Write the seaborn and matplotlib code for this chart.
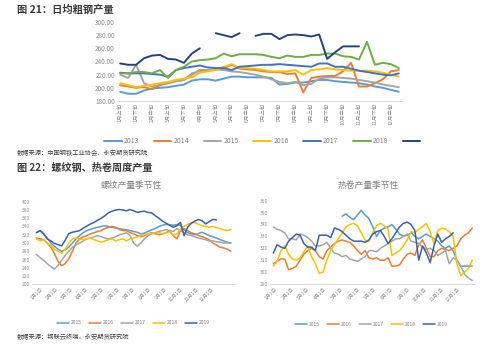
import numpy as np
import pandas as pd
import matplotlib
matplotlib.use('Agg')
import matplotlib.pyplot as plt
import seaborn as sns
from matplotlib.lines import Line2D

sns.set_style('white')
plt.rcParams['font.family'] = ['Noto Sans CJK SC', 'DejaVu Sans']
plt.rcParams['axes.unicode_minus'] = False
nan = np.nan

# ---------------- chart 21: daily crude steel output (dekads) ----------------
dekad_labels = ['1月上旬', '1月下旬', '2月中旬', '3月上旬', '3月下旬', '4月中旬',
                '5月上旬', '5月下旬', '6月中旬', '7月上旬', '7月下旬', '8月中旬',
                '9月上旬', '9月下旬', '10月中旬', '11月上旬', '11月下旬', '12月中旬']
steel_years = ['2013', '2014', '2015', '2016', '2017', '2018', '2019']
steel_legend = ['2013', '2014', '2015', '2016', '2017', '2018', '']
steel_2013 = [194, 191, 191, 196, 199, 200, 201, 203, 205, 211, 213, 213, 211, 214, 217, 217, 216, 216,
              216, 215, 205, 206, 208, 208, 210, 212, 212, 210, 209, 208, 207, 205, 202, 200, 197, 194]
steel_2014 = [204, 202, 200, 201, 198, 204, 207, 210, 212, 220, 227, 227, 228, 230, 235, 229, 228, 227,
              225, 224, 224, 221, 222, 193, 215, 217, 218, 218, 225, 238, 202, 202, 207, 213, 225, 227]
steel_2015 = [220, 215, 235, 207, 202, 205, 208, 210, 212, 222, 225, 227, 228, 227, 225, 224, 222, 220,
              217, 213, 209, 207, 209, 204, 206, 214, 216, 216, 215, 214, 212, 210, 208, 205, 203, 201]
steel_2016 = [207, 204, 201, 203, 205, 207, 209, 212, 214, 216, 223, 225, 227, 232, 236, 230, 230, 229,
              227, 225, 225, 225, 227, 220, 227, 228, 230, 228, 227, 226, 226, 226, 225, 223, 220, 217]
steel_2017 = [223, 222, 222, 222, 221, 220, 217, 227, 230, 232, 234, 231, 230, 230, 227, 232, 233, 234,
              235, 235, 236, 235, 234, 233, 232, 237, 237, 232, 232, 229, 226, 224, 222, 220, 219, 222]
steel_2018 = [222, 222, 224, 224, 222, 227, 215, 227, 232, 240, 242, 243, 245, 252, 248, 251, 251, 251,
              250, 247, 245, 249, 247, 247, 250, 250, 252, 252, 248, 247, 243, 270, 235, 238, 236, 230]
steel_2019 = [237, 235, 235, 245, 249, 250, 244, 243, 238, 252, 260, nan, 283, 280, 277, 283, nan, 279,
              282, 282, 274, 280, 281, 280, 278, 281, 244, 254, 263, 263, 263, nan, nan, nan, nan, nan]

# ---------------- chart 22 left: rebar weekly output ----------------
month_labels = ['1月1日', '2月1日', '3月1日', '4月1日', '5月1日', '6月1日',
                '7月1日', '8月1日', '9月1日', '10月1日', '11月1日', '12月1日']
week_years = ['2015', '2016', '2017', '2018', '2019']
rebar_2015 = [325, 330, 322, 312, 300, 292, 285, 280, 283, 290, 300, 310, 318, 325, 330, 333, 336, 338, 340,
              342, 340, 338, 336, 335, 333, 332, 330, 328, 326, 322, 324, 328, 332, 335, 340, 343, 345, 344,
              343, 345, 343, 332, 325, 322, 320, 323, 326, 322, 318, 315, 312, 308, 305, 302, 300]
rebar_2016 = [312, 310, 308, 300, 290, 275, 255, 245, 250, 262, 280, 300, 310, 315, 318, 322, 325, 328, 330,
              335, 338, 340, 338, 333, 330, 330, 325, 322, 318, 315, 318, 322, 325, 322, 320, 322, 325, 330,
              318, 310, 330, 335, 330, 325, 322, 318, 315, 312, 308, 300, 295, 290, 288, 285, 280]
rebar_2017 = [272, 265, 258, 250, 243, 237, 245, 258, 270, 280, 290, 295, 300, 305, 310, 312, 315, 318, 315,
              312, 310, 312, 315, 320, 322, 325, 318, 300, 292, 300, 310, 318, 322, 325, 328, 330, 332, 330,
              328, 335, 330, 325, 320, 318, 315, 312, 310, 308, 305, 305, 303, 302, 300, 300, 300]
rebar_2018 = [310, 305, 308, 300, 295, 285, 280, 275, 285, 300, 310, 312, 310, 308, 310, 312, 308, 305, 302,
              305, 308, 310, 305, 308, 310, 305, 310, 312, 315, 318, 320, 322, 323, 325, 325, 322, 325, 328,
              320, 322, 335, 340, 345, 348, 350, 345, 342, 340, 338, 340, 337, 335, 332, 330, 333]
rebar_2019 = [325, 330, 322, 310, 305, 299, 296, 293, 307, 323, 326, 328, 330, 336, 341, 346, 350, 355, 360,
              366, 373, 377, 380, 381, 380, 378, 381, 378, 374, 376, 377, 374, 373, 366, 360, 353, 348, 343,
              338, 342, 350, 318, 338, 348, 353, 357, 354, 346, 352, 357, 356, nan, nan, nan, nan]

# ---------------- chart 22 right: hot-rolled coil weekly output ----------------
hrc_2015 = [nan] * 18 + [347, 349, 346, 344, 348, 352, 348, 345, 338, 330, 335, 337, 338, 340, 336, 332, 330,
                         331, 333, 330, 328, 330, 332, 330, 328, 326, 322, 320, 322, 318, 310, 305, 305, 305, 305]
hrc_2016 = [307, 309, 311, 311, 302, 303, 305, 310, 315, 318, 320, 318, 313, 311, 318, 321, 324, 326, 327,
            326, 325, 322, 318, 315, 318, 312, 311, 312, 310, 310, 312, 305, 305, 306, 311, 315, 316, 314,
            323, 327, 320, 313, 313, 318, 320, 319, 318, 320, 322, 328, 331, 333, 337]
hrc_2017 = [338, 336, 335, 333, 328, 328, 327, 332, 331, 329, 326, 322, 322, 323, 325, 320, 316, 315, 313,
            314, 311, 310, 309, 311, 313, 318, 318, 317, 320, 322, 324, 326, 328, 328, 330, 332, 326, 325,
            324, 321, 319, 320, 318, 314, 316, 318, 307, 312, 310, 305, 298, 295, 293]
hrc_2018 = [305, 309, 318, 322, 315, 311, 310, 312, 317, 322, 313, 307, 299, 300, 310, 318, 323, 328, 333,
            338, 340, 341, 339, 333, 327, 326, 333, 339, 341, 339, 336, 314, 316, 318, 322, 327, 334, 333,
            336, 338, 341, 334, 324, 335, 337, 336, 334, 330, 307, 297, 300, 303, 310]
hrc_2019 = [316, 323, 321, 320, 326, 329, 332, 331, 324, 321, 321, 318, 331, 331, 331, 329, 337, 336, 334,
            331, 328, 326, 326, 326, 325, 327, 332, 334, 335, 330, 324, 328, 333, 338, 341, 342, 340, 335,
            310, 322, 316, 308, 322, 332, 325, 328, 330, 333, nan, nan, nan, nan, nan]

# ---------------- helpers ----------------
def to_long(names, series, xs):
    rows = []
    for name, vals in zip(names, series):
        seg = 0
        for x, v in zip(xs, vals):
            if v is None or np.isnan(v):
                seg += 1
                continue
            rows.append((name, f'{name}-{seg}', x, float(v)))
    return pd.DataFrame(rows, columns=['year', 'seg', 'x', 'v'])


def style(ax):
    for sp in ['top', 'right', 'left']:
        ax.spines[sp].set_visible(False)
    ax.spines['bottom'].set_color('#D9D9D9')
    ax.spines['bottom'].set_linewidth(0.7)
    ax.tick_params(length=0, colors='#8C8C8C', pad=1.5)
    ax.set_xlabel('')
    ax.set_ylabel('')
    ax.grid(False)
    ax.set_facecolor('none')


pal_steel = {'2013': '#5B9BD5', '2014': '#ED7D31', '2015': '#A5A5A5', '2016': '#FFC000',
             '2017': '#4472C4', '2018': '#70AD47', '2019': '#264478'}
pal_week = {'2015': '#5B9BD5', '2016': '#ED7D31', '2017': '#A5A5A5', '2018': '#FFC000',
            '2019': '#3A62AC'}

W, H = 500, 349
fig = plt.figure(figsize=(5.0, 3.49), dpi=100)
fig.patch.set_facecolor('white')

# ---- top chart
ax1 = fig.add_axes([117 / W, 1 - 101 / H, 285 / W, 79 / H])
df1 = to_long(steel_years, [steel_2013, steel_2014, steel_2015, steel_2016, steel_2017, steel_2018, steel_2019],
              list(range(len(steel_2013))))
sns.lineplot(data=df1, x='x', y='v', hue='year', units='seg', estimator=None, palette=pal_steel,
             linewidth=1.4, legend=False, ax=ax1, sort=False)
ax1.set_ylim(180, 300)
ax1.set_yticks(range(180, 301, 20))
ax1.set_yticklabels([f'{v:.2f}' for v in range(180, 301, 20)], fontsize=4.6)
ax1.set_xlim(-0.4, 35.4)
ax1.set_xticks(range(0, 36, 2))
ax1.set_xticklabels(dekad_labels, rotation=90, fontsize=3.9)
style(ax1)

h1 = [Line2D([], [], color=pal_steel[y], lw=1.4) for y in steel_years]
fig.legend(h1, steel_legend, loc='center left', bbox_to_anchor=(104 / W, 1 - 141 / H), ncol=7,
           frameon=False, fontsize=4.9, handlelength=2.6, handletextpad=0.35, columnspacing=2.1,
           borderpad=0, borderaxespad=0, labelcolor='#7F7F7F')

# ---- bottom-left chart (rebar)
month_days = [0, 31, 59, 90, 120, 151, 181, 212, 243, 273, 304, 334]
ax2 = fig.add_axes([32 / W, 1 - 284.3 / H, 203 / W, 82.6 / H])
days_left = [7 * k - 7 for k in range(len(rebar_2015))]
df2 = to_long(week_years, [rebar_2015, rebar_2016, rebar_2017, rebar_2018, rebar_2019], days_left)
sns.lineplot(data=df2, x='x', y='v', hue='year', units='seg', estimator=None, palette=pal_week,
             linewidth=1.1, legend=False, ax=ax2, sort=False)
ax2.set_ylim(200, 400)
ax2.set_yticks(range(200, 401, 20))
ax2.set_yticklabels([str(v) for v in range(200, 401, 20)], fontsize=3.5)
ax2.set_xlim(-15.6, 379)
ax2.set_xticks(month_days)
ax2.set_xticklabels(month_labels, rotation=45, ha='right', rotation_mode='anchor', fontsize=3.5)
style(ax2)
h2 = [Line2D([], [], color=pal_week[y], lw=1.1) for y in week_years]
fig.legend(h2, week_years, loc='center left', bbox_to_anchor=(57 / W, 1 - 323 / H), ncol=5,
           frameon=False, fontsize=3.6, handlelength=2.4, handletextpad=0.4, columnspacing=1.4,
           borderpad=0, borderaxespad=0, labelcolor='#7F7F7F')

# ---- bottom-right chart (HRC)
ax3 = fig.add_axes([270 / W, 1 - 284 / H, 205 / W, 83.3 / H])
days_right = [7 * k - 3 for k in range(len(hrc_2016))]
df3 = to_long(week_years, [hrc_2015, hrc_2016, hrc_2017, hrc_2018, hrc_2019], days_right)
sns.lineplot(data=df3, x='x', y='v', hue='year', units='seg', estimator=None, palette=pal_week,
             linewidth=1.1, legend=False, ax=ax3, sort=False)
ax3.set_ylim(290, 360)
ax3.set_yticks(range(290, 361, 10))
ax3.set_yticklabels([str(v) for v in range(290, 361, 10)], fontsize=3.5)
ax3.set_xlim(-9, 366)
ax3.set_xticks(month_days)
ax3.set_xticklabels(month_labels, rotation=45, ha='right', rotation_mode='anchor', fontsize=3.5)
style(ax3)
fig.legend(h2, week_years, loc='center left', bbox_to_anchor=(295 / W, 1 - 324 / H), ncol=5,
           frameon=False, fontsize=3.6, handlelength=2.4, handletextpad=0.4, columnspacing=1.4,
           borderpad=0, borderaxespad=0, labelcolor='#7F7F7F')

# ---- texts
fig.text(17 / W, 1 - 10 / H, '图 21：日均粗钢产量', ha='left', va='center', fontsize=7.4,
         fontweight='bold', color='#3A3A3A')
fig.text(17 / W, 1 - 153 / H, '数据来源：中国钢铁工业协会、永安期货研究院', ha='left', va='center',
         fontsize=4.5, color='#404040')
fig.text(17 / W, 1 - 168 / H, '图 22：螺纹钢、热卷周度产量', ha='left', va='center', fontsize=7.3,
         fontweight='bold', color='#3A3A3A')
fig.text(131 / W, 1 - 185 / H, '螺纹产量季节性', ha='center', va='center', fontsize=6.3, color='#7F7F7F')
fig.text(368 / W, 1 - 185 / H, '热卷产量季节性', ha='center', va='center', fontsize=6.3, color='#7F7F7F')
fig.text(17 / W, 1 - 337 / H, '数据来源：钢联云终端，永安期货研究院', ha='left', va='center',
         fontsize=4.5, color='#404040')

fig.savefig('out.png', dpi=100, facecolor='white')
